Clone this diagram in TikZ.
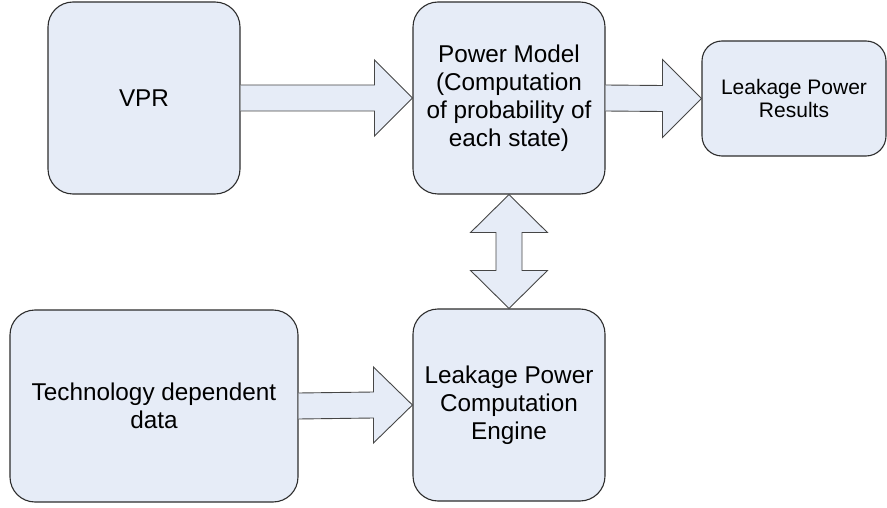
\documentclass[tikz,border=0pt]{standalone}
\usepackage{fontspec}
\setmainfont{Liberation Sans}
\usetikzlibrary{calc}
\definecolor{boxfill}{RGB}{230,236,247}
\definecolor{boxline}{RGB}{45,45,45}
\definecolor{arrowline}{RGB}{70,70,70}
\tikzset{
  box/.style={draw=boxline, line width=1.1pt, fill=boxfill, rounded corners=25pt,
    inner sep=0pt, align=center, font=\fontsize{24.3}{28}\selectfont},
  smallbox/.style={box, rounded corners=20pt, font=\fontsize{21}{23.5}\selectfont},
  blockarrow/.style={draw=arrowline, line width=0.9pt, fill=boxfill, line join=miter}
}
\begin{document}
\begin{tikzpicture}[x=1pt,y=-1pt]
\useasboundingbox (0,0) rectangle (887,508);

% blocks
\node[box, minimum width=192pt, minimum height=192pt] (vpr) at (144,98) {VPR};
\node[box, minimum width=192pt, minimum height=192pt] (pm) at (509,98)
  {Power Model\\(Computation\\of probability of\\each state)};
\node[smallbox, minimum width=184pt, minimum height=115pt] (res) at (794,98.5)
  {Leakage Power\\Results};
\node[box, minimum width=288pt, minimum height=192pt] (tech) at (154,406)
  {Technology dependent\\data};
\node[box, minimum width=192pt, minimum height=192pt] (eng) at (509,405)
  {Leakage Power\\Computation\\Engine};

% block arrows between the blocks
\draw[blockarrow] ($(vpr.east)+(0,-13)$) -- ($(pm.west)+(-38,-13)$) -- ($(pm.west)+(-38,-38)$)
  -- (pm.west) -- ($(pm.west)+(-38,38)$) -- ($(pm.west)+(-38,13)$) -- ($(vpr.east)+(0,13)$);
\draw[blockarrow] ($(pm.east)+(0,-13)$) -- ($(res.west)+(-39,-13)$) -- ($(res.west)+(-39,-39)$)
  -- (res.west) -- ($(res.west)+(-39,39)$) -- ($(res.west)+(-39,13)$) -- ($(pm.east)+(0,13)$);
\draw[blockarrow] ($(tech.east)+(0,-13)$) -- ($(eng.west)+(-39,-13)$) -- ($(eng.west)+(-39,-38)$)
  -- (eng.west) -- ($(eng.west)+(-39,38)$) -- ($(eng.west)+(-39,13)$) -- ($(tech.east)+(0,13)$);
\draw[blockarrow] (pm.south) -- ($(pm.south)+(38.5,38)$) -- ($(pm.south)+(13,38)$)
  -- ($(eng.north)+(13,-38)$) -- ($(eng.north)+(38.5,-38)$) -- (eng.north)
  -- ($(eng.north)+(-38.5,-38)$) -- ($(eng.north)+(-13,-38)$) -- ($(pm.south)+(-13,38)$)
  -- ($(pm.south)+(-38.5,38)$) -- cycle;
\end{tikzpicture}
\end{document}
